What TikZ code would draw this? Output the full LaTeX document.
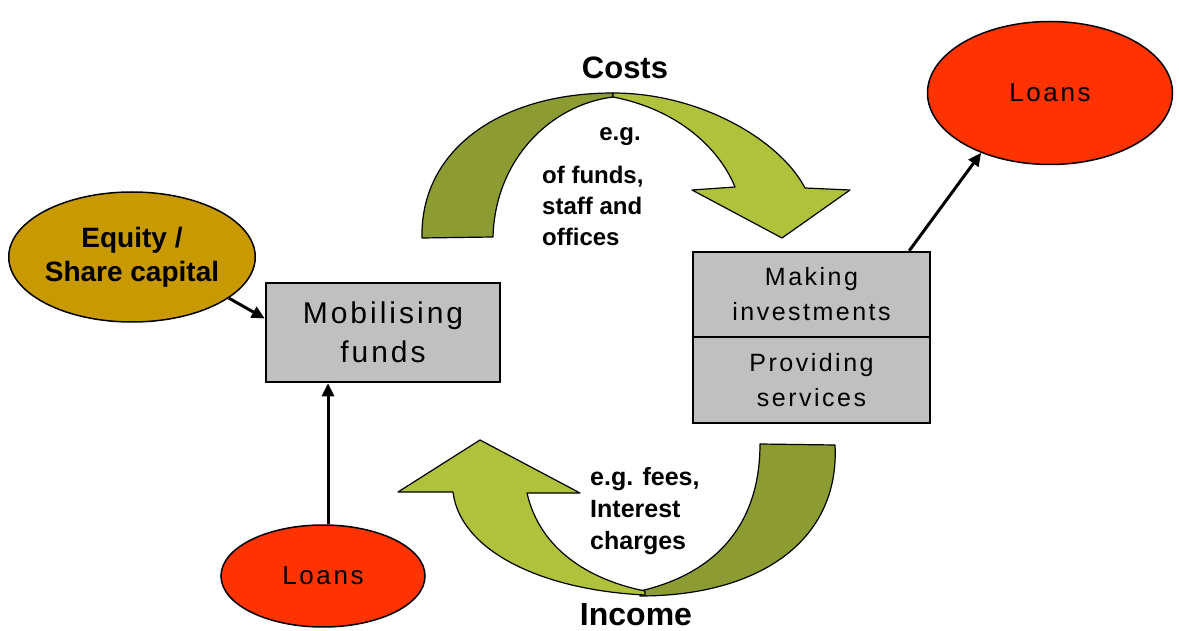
\documentclass[tikz,border=0pt]{standalone}
\usepackage{fontspec}
\setmainfont{Liberation Sans}
\newfontfamily\spacedfont[LetterSpace=10]{Liberation Sans}
\usetikzlibrary{arrows.meta,shapes.geometric}
\definecolor{olivedark}{HTML}{8C9B32}
\definecolor{olivelight}{HTML}{B0C23C}
\definecolor{gold}{HTML}{C99A00}
\definecolor{loanred}{HTML}{FF3300}
\definecolor{boxgray}{HTML}{C0C0C0}
\begin{document}
\begin{tikzpicture}[x=1pt,y=-1pt,
  graybox/.style={draw=black, line width=2.5pt, fill=boxgray, inner sep=0pt, align=center, font=\spacedfont\fontsize{25}{35}\selectfont},
  oval/.style={ellipse, draw=black, line width=1.5pt, inner sep=0pt, align=center},
  arr/.style={draw=black, line width=3pt, -{Triangle[length=13pt,width=12pt]}},
  band/.style={draw=black, line width=1.2pt, line join=round},
  bold/.style={font=\bfseries\fontsize{24}{31}\selectfont, inner sep=0pt, align=left}]
\useasboundingbox (0,0) rectangle (1179,631);

% top curved arrow (Costs)
\path[band, fill=olivedark] (422,238) .. controls (420,150) and (500,93) .. (613,93)
  -- (613,97) .. controls (550,105) and (495,160) .. (493,237) -- cycle;
\path[band, fill=olivelight] (613,93) .. controls (700,93) and (780,140) .. (805,188)
  -- (850,190) -- (782,238) -- (692,190) -- (735,187)
  .. controls (720,150) and (680,110) .. (613,97) -- cycle;

% bottom curved arrow (Income)
\path[band, fill=olivedark] (760,444) -- (835,445)
  .. controls (840,540) and (760,596) .. (640,596)
  -- (640,591) .. controls (710,575) and (760,530) .. (760,444) -- cycle;
\path[band, fill=olivelight] (645,595) .. controls (540,590) and (460,550) .. (453,492)
  -- (398,492) -- (480,440) -- (580,493) -- (527,493)
  .. controls (540,550) and (590,580) .. (645,591) -- cycle;

% boxes
\node[graybox, minimum width=234pt, minimum height=99pt, font=\spacedfont\fontsize{30}{39}\selectfont] (mob) at (383,332.5) {Mobilising\\funds};
\node[graybox, minimum width=237pt, minimum height=85pt] (inv) at (811.5,294.5) {Making\\investments};
\node[graybox, minimum width=237pt, minimum height=86pt] (svc) at (811.5,380) {Providing\\services};

% ovals
\node[oval, fill=gold, minimum width=242pt, minimum height=130pt, font=\bfseries\fontsize{28}{34}\selectfont] (eq) at (132,257) {Equity /\\Share capital};
\node[oval, fill=loanred, minimum width=204pt, minimum height=102pt, font=\spacedfont\fontsize{26}{30}\selectfont] (lb) at (323,576) {Loans};
\node[oval, fill=loanred, minimum width=245pt, minimum height=143pt, font=\spacedfont\fontsize{26}{30}\selectfont] (lt) at (1050,93) {Loans};

% connectors
\draw[arr] (eq.-23) -- ([yshift=14pt]mob.west);
\draw[arr] ([xshift=5pt]lb.north) -- ([xshift=5pt]lb.north |- mob.south);
\draw[arr] ([xshift=-22pt]inv.north east) -- (lt.-139);

% labels
\node[font=\bfseries\fontsize{31}{36}\selectfont, inner sep=0pt] (costs) at (625,68) {Costs};
\node[font=\bfseries\fontsize{32}{36}\selectfont, inner sep=0pt] (income) at (636,615) {Income};
\node[bold] (eg) at (620,137) {e.g.};
\node[bold, anchor=west] (costtxt) at (542,206) {of funds,\\staff and\\offices};
\node[bold, anchor=west, font=\bfseries\fontsize{25}{32}\selectfont] (inctxt) at (590,511) {e.g. fees,\\Interest\\charges};
\end{tikzpicture}
\end{document}
